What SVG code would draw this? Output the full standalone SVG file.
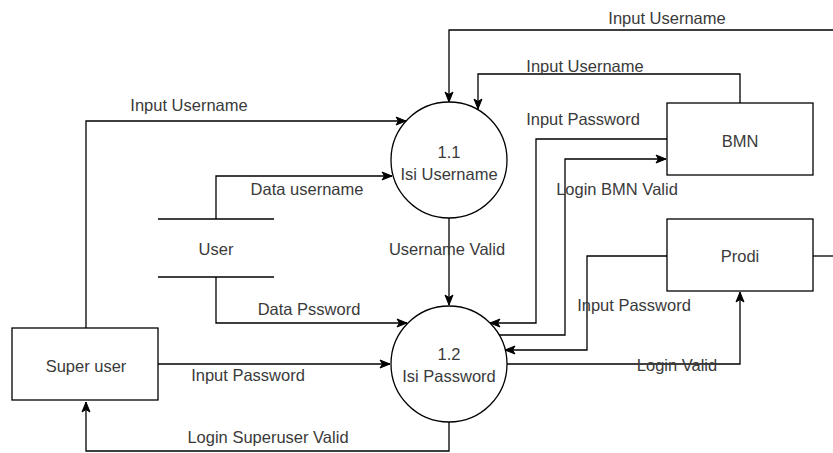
<svg xmlns="http://www.w3.org/2000/svg" width="833" height="453" viewBox="0 0 833 453">
<style>
.n{fill:#fff;stroke:#000;stroke-width:1.3}
.t{font-family:"Liberation Sans",Arial,sans-serif;font-size:16.5px;fill:#3a3a3a;text-anchor:middle}
.e{fill:none;stroke:#000;stroke-width:1.3}
.a{marker-end:url(#arr)}
</style>
<defs>
<marker id="arr" markerUnits="userSpaceOnUse" markerWidth="12" markerHeight="12" refX="11" refY="6" orient="auto">
<path d="M1,2 L11,6 L1,10 L3.5,6 z" fill="#000" stroke="#000" stroke-width="1"/>
</marker>
</defs>
<rect width="833" height="453" fill="#fff"/>
<g id="connectors">
<path class="e a" d="M833,30 H449 V102"/>
<path class="e a" d="M740,103 V74 H478 V109"/>
<path class="e a" d="M667,139 H536 V323 H490"/>
<path class="e a" d="M499,335 H565 V159 H666"/>
<path class="e a" d="M667,256 H587 V350 H505"/>
<path class="e a" d="M507,364 H740 V292"/>
<path class="e" d="M813,256 H833"/>
<path class="e a" d="M449,218 V305"/>
<path class="e a" d="M86,328 V121 H406"/>
<path class="e a" d="M216,219 V176 H392"/>
<path class="e a" d="M216,277 V323 H407"/>
<path class="e a" d="M158,364 H390"/>
<path class="e a" d="M449,422 V451 H86 V402"/>
</g>
<g id="labels">
<text class="t" x="667" y="24">Input Username</text>
<text class="t" x="585" y="72">Input Username</text>
<text class="t" x="583" y="125">Input Password</text>
<text class="t" x="617" y="195">Login BMN Valid</text>
<text class="t" x="447" y="255">Username Valid</text>
<text class="t" x="634" y="311">Input Password</text>
<text class="t" x="677" y="371">Login Valid</text>
<text class="t" x="189" y="111">Input Username</text>
<text class="t" x="307" y="195">Data username</text>
<text class="t" x="309" y="315">Data Pssword</text>
<text class="t" x="248" y="381">Input Password</text>
<text class="t" x="268" y="443">Login Superuser Valid</text>
</g>
<g id="p11">
<circle class="n" cx="449" cy="160" r="58"/>
<text class="t" x="449" y="158">1.1</text>
<text class="t" x="449" y="180">Isi Username</text>
</g>
<g id="p12">
<circle class="n" cx="449" cy="364" r="58"/>
<text class="t" x="449" y="360">1.2</text>
<text class="t" x="449" y="382">Isi Password</text>
</g>
<g id="bmn">
<rect class="n" x="667" y="103" width="146" height="72"/>
<text class="t" x="740" y="147">BMN</text>
</g>
<g id="prodi">
<rect class="n" x="667" y="219" width="146" height="72"/>
<text class="t" x="740" y="262">Prodi</text>
</g>
<g id="superuser">
<rect class="n" x="12" y="328" width="146" height="72"/>
<text class="t" x="86" y="372">Super user</text>
</g>
<g id="user">
<line class="e" x1="158" y1="219" x2="274" y2="219"/>
<line class="e" x1="158" y1="277" x2="274" y2="277"/>
<text class="t" x="216" y="255">User</text>
</g>
</svg>
